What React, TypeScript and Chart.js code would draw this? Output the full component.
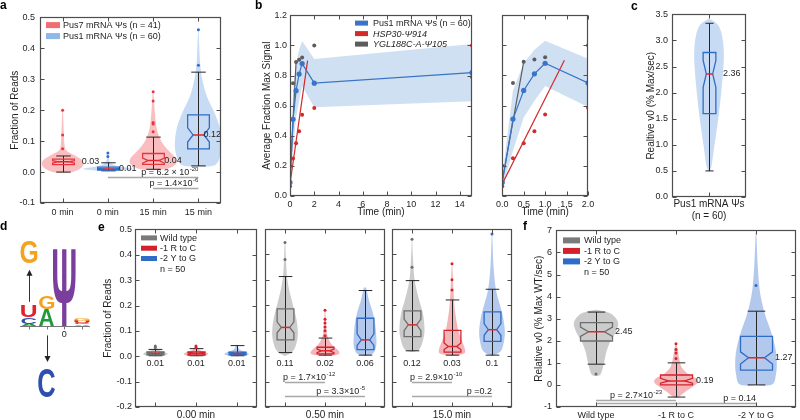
import React, { useEffect, useRef } from "react";
import { Chart, registerables } from "chart.js";

Chart.register(...registerables);

const FONT = "'Liberation Sans', Arial, Helvetica, sans-serif";
Chart.defaults.font.family = FONT;
Chart.defaults.font.size = 9;
Chart.defaults.color = "#1e1e1e";

/* ======================= DATA ======================= */
// ---- panel a ----
const aCategories = ["0 min", "0 min", "15 min", "15 min"];
const aSeriesNames = ["Pus7 mRNA Ψs (n = 41)", "Pus1 mRNA Ψs (n = 60)"];
const aSeriesOfCategory = [0, 1, 0, 1];
const aYTicks = [-0.1, 0, 0.1, 0.2, 0.3, 0.4, 0.5];
const aMedian = [0.033, 0.01, 0.037, 0.12];
const aQ1 = [0.024, 0.006, 0.025, 0.075];
const aQ3 = [0.042, 0.016, 0.06, 0.185];
const aLow = [0.0, 0.004, 0.009, 0.02];
const aHigh = [0.052, 0.03, 0.113, 0.323];
const aNotchLow = [0.029, 0.008, 0.029, 0.097];
const aNotchHigh = [0.037, 0.012, 0.045, 0.143];
const aOutliers = [[0.075, 0.12, 0.2], [0.05, 0.062], [0.13, 0.155, 0.16, 0.23, 0.26], [0.345, 0.46]];
const aDensity = [
  [[-0.004, 0], [0.0, 0.22], [0.012, 0.4], [0.028, 0.46], [0.042, 0.4], [0.056, 0.24], [0.07, 0.08], [0.09, 0.04], [0.13, 0.025], [0.2, 0.008]],
  [[0.003, 0], [0.005, 0.3], [0.009, 0.55], [0.014, 0.45], [0.02, 0.2], [0.03, 0.06], [0.045, 0.02], [0.062, 0.005]],
  [[0.006, 0], [0.01, 0.3], [0.025, 0.5], [0.045, 0.5], [0.07, 0.34], [0.1, 0.18], [0.14, 0.08], [0.19, 0.04], [0.26, 0.008]],
  [[0.017, 0], [0.022, 0.36], [0.05, 0.48], [0.09, 0.52], [0.14, 0.48], [0.19, 0.36], [0.24, 0.2], [0.29, 0.1], [0.35, 0.04], [0.46, 0.006]],
];
const aMedianLabels = ["0.03", "0.01", "0.04", "0.12"];
const aPFrom = [1, 2];
const aPTo = [3, 3];
const aPLevel = [-0.017, -0.052];
const aPText = [["p = 6.2 × 10", "-20"], ["p = 1.4×10", "-6"]];

// ---- panel b ----
const bTime = [0, 0.25, 0.5, 0.75, 1, 2, 15];
const bPus1Mean = [0.09, 0.51, 0.7, 0.81, 0.88, 0.75, 0.82];
const bPus1Low = [0.06, 0.3, 0.52, 0.63, 0.73, 0.59, 0.63];
const bPus1High = [0.13, 0.7, 0.88, 0.97, 1.03, 0.91, 1.01];
const bHsp30 = [0.065, 0.25, 0.35, 0.43, 0.54, 0.585, 1.0];
const bYgl = [0.2, 0.75, 0.89, 0.905, 0.92, 1.0, 0.79];
const bHspFitTime = [0, 1.45];
const bHspFitValue = [0.08, 0.9];
const bYglFitTime = [0, 0.5];
const bYglFitValue = [0.1, 0.89];
const bSeriesNames = ["Pus1 mRNA Ψs (n = 60)", "HSP30-Ψ914", "YGL188C-A-Ψ105"];
const bYTicks = [0, 0.2, 0.4, 0.6, 0.8, 1.0, 1.2];
const bLeftXTicks = [0, 2, 4, 6, 8, 10, 12, 14];
const bRightXTicks = [0, 0.5, 1, 1.5, 2];

// ---- panel c ----
const cCategory = [["Pus1 mRNA Ψs", "(n = 60)"]];
const cYTicks = [0, 0.5, 1, 1.5, 2, 2.5, 3, 3.5];
const cMedian = [2.36];
const cQ1 = [1.6];
const cQ3 = [2.77];
const cLow = [0.5];
const cHigh = [3.33];
const cNotchLow = [2.1];
const cNotchHigh = [2.62];
const cOutliers = [[]];
const cDensity = [[[0.48, 0], [0.6, 0.035], [1.0, 0.075], [1.5, 0.125], [2.0, 0.165], [2.5, 0.195], [2.8, 0.2], [3.1, 0.175], [3.3, 0.12], [3.42, 0]]];
const cMedianLabels = ["2.36"];

// ---- panel d (sequence logo) ----
const logoPositions = [-2, -1, 0, 1];
const logoLetters = [["A", "C", "U"], ["A", "G"], ["Ψ"], ["A", "C", "U", "G"]];
const logoHeights = [[0.03, 0.08, 0.15], [0.22, 0.17], [1.0], [0.02, 0.02, 0.025, 0.025]];
const logoVariantPos = [-2, -1];
const logoVariantLetter = ["G", "C"];
const logoVariantNear = [0.81, -0.54];
const logoVariantFar = [1.1, -0.91];
const logoArrowFrom = [0.31, -0.12];
const logoArrowTo = [0.72, -0.46];
const logoTickLabels = ["", "", "0", ""];

// ---- panel e ----
const eTimes = ["0.00 min", "0.50 min", "15.0 min"];
const eGroups = ["Wild type", "-1 R to C", "-2 Y to G"];
const eYTicks = [-0.2, -0.1, 0, 0.1, 0.2, 0.3, 0.4, 0.5];
const eMedian = [[0.012, 0.012, 0.011], [0.113, 0.021, 0.064], [0.123, 0.038, 0.104]];
const eQ1 = [[0.006, 0.005, 0.006], [0.064, 0.009, 0.026], [0.077, 0.016, 0.058]];
const eQ3 = [[0.017, 0.017, 0.016], [0.186, 0.035, 0.149], [0.178, 0.101, 0.174]];
const eLow = [[0.002, 0.002, 0.002], [0.014, 0.004, 0.004], [0.021, 0.004, 0.004]];
const eHigh = [[0.027, 0.03, 0.042], [0.313, 0.071, 0.258], [0.297, 0.221, 0.263]];
const eNotchLow = [[0.009, 0.009, 0.008], [0.092, 0.014, 0.042], [0.1, 0.026, 0.082]];
const eNotchHigh = [[0.015, 0.015, 0.014], [0.135, 0.028, 0.088], [0.146, 0.052, 0.128]];
const eOutliers = [
  [[0.035, 0.04], [0.035, 0.04], []],
  [[0.38, 0.447], [0.08, 0.1, 0.115, 0.13, 0.145, 0.18], []],
  [[0.35, 0.46], [0.26, 0.3, 0.363], [0.48]],
];
const eDensity = [
  [
    [[0.0, 0], [0.003, 0.22], [0.009, 0.3], [0.016, 0.24], [0.024, 0.1], [0.032, 0.03], [0.042, 0.005]],
    [[0.0, 0], [0.003, 0.22], [0.009, 0.3], [0.016, 0.24], [0.024, 0.1], [0.034, 0.03], [0.042, 0.005]],
    [[0.0, 0], [0.003, 0.22], [0.009, 0.3], [0.016, 0.24], [0.024, 0.1], [0.034, 0.04], [0.046, 0.005]],
  ],
  [
    [[0.0, 0], [0.02, 0.2], [0.06, 0.3], [0.1, 0.32], [0.15, 0.28], [0.2, 0.2], [0.25, 0.12], [0.3, 0.06], [0.36, 0.03], [0.45, 0.008]],
    [[0.0, 0], [0.005, 0.3], [0.015, 0.36], [0.03, 0.28], [0.05, 0.15], [0.08, 0.06], [0.12, 0.03], [0.18, 0.008]],
    [[0.0, 0], [0.01, 0.2], [0.04, 0.28], [0.08, 0.28], [0.13, 0.25], [0.18, 0.18], [0.22, 0.1], [0.27, 0.03]],
  ],
  [
    [[0.015, 0], [0.03, 0.2], [0.08, 0.3], [0.12, 0.31], [0.17, 0.27], [0.22, 0.18], [0.27, 0.1], [0.32, 0.05], [0.4, 0.02], [0.46, 0.006]],
    [[0.0, 0], [0.01, 0.3], [0.03, 0.32], [0.06, 0.25], [0.1, 0.16], [0.15, 0.1], [0.2, 0.06], [0.28, 0.03], [0.36, 0.008]],
    [[0.0, 0], [0.02, 0.22], [0.06, 0.3], [0.1, 0.32], [0.15, 0.28], [0.2, 0.2], [0.26, 0.1], [0.35, 0.04], [0.48, 0.006]],
  ],
];
const eMedianLabels = [["0.01", "0.01", "0.01"], ["0.11", "0.02", "0.06"], ["0.12", "0.03", "0.1"]];
const ePFrom = [[], [0, 0], [0, 0]];
const ePTo = [[], [1, 2], [1, 2]];
const ePLevel = [[], [-0.1, -0.156], [-0.1, -0.156]];
const ePText = [[], [["p = 1.7×10", "-12"], ["p = 3.3×10", "-5"]], [["p = 2.9×10", "-10"], ["p =0.2", ""]]];
const eSampleNote = "n = 50";

// ---- panel f ----
const fYTicks = [-1, 0, 1, 2, 3, 4, 5, 6, 7];
const fMedian = [2.41, 0.18, 1.23];
const fQ1 = [1.99, 0.0, 0.67];
const fQ3 = [2.82, 0.45, 2.2];
const fLow = [0.94, -0.55, 0.0];
const fHigh = [3.3, 1.0, 3.34];
const fNotchLow = [2.2, 0.08, 0.95];
const fNotchHigh = [2.62, 0.3, 1.5];
const fOutliers = [[0.49], [1.2, 1.45, 1.6, 1.87], [4.5]];
const fDensity = [
  [[0.4, 0], [0.5, 0.06], [1.0, 0.1], [1.5, 0.13], [1.9, 0.17], [2.2, 0.22], [2.6, 0.27], [2.9, 0.27], [3.2, 0.2], [3.32, 0.12], [3.4, 0]],
  [[-0.6, 0], [-0.5, 0.05], [-0.3, 0.12], [-0.1, 0.2], [0.1, 0.27], [0.3, 0.25], [0.5, 0.15], [0.8, 0.07], [1.2, 0.04], [1.6, 0.02], [1.9, 0.006]],
  [[0.0, 0], [0.02, 0.2], [0.5, 0.25], [1.0, 0.26], [1.5, 0.25], [2.0, 0.22], [2.5, 0.18], [3.0, 0.13], [3.5, 0.09], [4.0, 0.06], [4.5, 0.04], [5.5, 0.02], [6.9, 0.004]],
];
const fMedianLabels = ["2.45", "0.19", "1.27"];
const fPFrom = [0, 0];
const fPTo = [1, 2];
const fPLevel = [-0.67, -0.82];
const fPText = [["p = 2.7×10", "-23"], ["p = 0.14", ""]];

/* ======================= LAYOUT & STYLE ======================= */
type Pad = { l: number; t: number; r: number; b: number };
type Rect = { l: number; t: number; w: number; h: number };
type Pal = { fill: string; edge: string; dot: string };

const A_PLOT: Rect = { l: 40, t: 15, w: 181, h: 188 };
const A_PAD: Pad = { l: 40, t: 8, r: 8, b: 17 };
const B1_PLOT: Rect = { l: 290, t: 15, w: 182, h: 181 };
const B1_PAD: Pad = { l: 32, t: 8, r: 10, b: 22 };
const B2_PLOT: Rect = { l: 499, t: 15, w: 89, h: 181 };
const B2_PAD: Pad = { l: 6, t: 8, r: 10, b: 22 };
const C_PLOT: Rect = { l: 672, t: 13, w: 74, h: 184 };
const C_PAD: Pad = { l: 30, t: 8, r: 8, b: 26 };
const D_PLOT: Rect = { l: 20, t: 232, w: 70, h: 176 };
const D_PAD: Pad = { l: 0, t: 0, r: 0, b: 0 };
const E_PLOTS: Rect[] = [
  { l: 135, t: 229, w: 123, h: 178 },
  { l: 264, t: 229, w: 122, h: 178 },
  { l: 391, t: 229, w: 122, h: 178 },
];
const E_PADS: Pad[] = [
  { l: 35, t: 8, r: 3, b: 14 },
  { l: 3, t: 8, r: 3, b: 14 },
  { l: 3, t: 8, r: 3, b: 14 },
];
const F_PLOT: Rect = { l: 556, t: 229, w: 243, h: 178 };
const F_PAD: Pad = { l: 26, t: 8, r: 1, b: 14 };

const PAL_A: Pal[] = [
  { fill: "rgba(242,98,104,0.42)", edge: "#e5373d", dot: "#e5373d" },
  { fill: "rgba(118,166,228,0.40)", edge: "#2e6dc8", dot: "#2e6dc8" },
];
const PAL_E: Pal[] = [
  { fill: "rgba(140,140,140,0.45)", edge: "#6e6e6e", dot: "#6e6e6e" },
  { fill: "rgba(228,70,80,0.40)", edge: "#d4222b", dot: "#d4222b" },
  { fill: "rgba(84,134,212,0.45)", edge: "#2e6cc6", dot: "#2e6cc6" },
];
const LEG_A = ["#f26d72", "#8fb7e8"];
const LEG_E = ["#7a7a7a", "#d3202a", "#2e6cc7"];
const B_BLUE = "#3a74c6";
const B_RED = "#d42a2a";
const B_GRAY = "#5c5c5c";
const B_BAND = "rgba(150,186,228,0.45)";
const MEDIAN_COLOR = "#e3262b";
const WHISKER = "#262626";
const FRAME = "#4d4d4d";
const PLINE = "#a8a8a8";
const LETTER_COLOR: Record<string, string> = { A: "#1f9a3c", C: "#2f4fae", G: "#f5a31f", U: "#e0202a", "Ψ": "#7a3e9d" };

/* ======================= HELPERS ======================= */
function baseOptions(pad: Pad, scales: any) {
  return {
    responsive: false,
    maintainAspectRatio: false,
    animation: false,
    devicePixelRatio: 1,
    events: [],
    layout: { padding: { left: 0, top: pad.t, right: pad.r, bottom: 0 } },
    plugins: { legend: { display: false }, tooltip: { enabled: false } },
    scales,
  };
}

function axisX(o: { min: number; max: number; ticks: number[]; fmt: (v: number) => any; show: boolean; pad: Pad; title?: string; tickPad?: number; font?: number; titlePadB?: number }) {
  return {
    type: "linear",
    min: o.min,
    max: o.max,
    afterBuildTicks: (sc: any) => { sc.ticks = o.ticks.map((v) => ({ value: v })); },
    afterFit: (sc: any) => { sc.height = o.pad.b; },
    grid: { display: false, drawTicks: false },
    border: { display: false },
    ticks: { display: o.show, padding: o.tickPad ?? 3, autoSkip: false, maxRotation: 0, minRotation: 0, font: { size: o.font ?? 9 }, callback: (v: number) => o.fmt(v) },
    title: { display: !!o.title, text: o.title ?? "", padding: { top: 0, bottom: o.titlePadB ?? 0 }, font: { size: 10 } },
  };
}

function axisY(o: { min: number; max: number; ticks: number[]; fmt: (v: number) => any; show: boolean; pad: Pad; title?: string; titlePadT?: number; tickPad?: number }) {
  return {
    type: "linear",
    min: o.min,
    max: o.max,
    afterBuildTicks: (sc: any) => { sc.ticks = o.ticks.map((v) => ({ value: v })); },
    afterFit: (sc: any) => { sc.width = o.pad.l; },
    grid: { display: false, drawTicks: false },
    border: { display: false },
    ticks: { display: o.show, padding: o.tickPad ?? 4, autoSkip: false, font: { size: 9 }, callback: (v: number) => o.fmt(v) },
    title: { display: !!o.title, text: o.title ?? "", padding: { top: o.titlePadT ?? 2, bottom: 0 }, font: { size: 10 } },
  };
}

function framePlugin(xt: number[], yt: number[]) {
  return {
    id: "frame",
    afterDatasetsDraw(chart: any) {
      const { ctx, chartArea: a } = chart;
      const xs = chart.scales.x, ys = chart.scales.y;
      const L = Math.round(a.left) + 0.5, R = Math.round(a.right) - 0.5, T = Math.round(a.top) + 0.5, B = Math.round(a.bottom) - 0.5;
      ctx.save();
      ctx.strokeStyle = FRAME;
      ctx.lineWidth = 1.2;
      ctx.strokeRect(L, T, R - L, B - T);
      ctx.beginPath();
      ctx.lineWidth = 1;
      const len = 4;
      for (const v of yt) {
        const py = Math.round(ys.getPixelForValue(v)) + 0.5;
        ctx.moveTo(L, py); ctx.lineTo(L + len, py);
        ctx.moveTo(R, py); ctx.lineTo(R - len, py);
      }
      for (const v of xt) {
        const px = Math.round(xs.getPixelForValue(v)) + 0.5;
        ctx.moveTo(px, B); ctx.lineTo(px, B - len);
        ctx.moveTo(px, T); ctx.lineTo(px, T + len);
      }
      ctx.stroke();
      ctx.restore();
    },
  };
}

function spline(ctx: CanvasRenderingContext2D, pts: number[][], move: boolean) {
  if (move) ctx.moveTo(pts[0][0], pts[0][1]);
  else ctx.lineTo(pts[0][0], pts[0][1]);
  for (let i = 0; i < pts.length - 1; i++) {
    const p0 = pts[Math.max(0, i - 1)], p1 = pts[i], p2 = pts[i + 1], p3 = pts[Math.min(pts.length - 1, i + 2)];
    ctx.bezierCurveTo(
      p1[0] + (p2[0] - p0[0]) / 6, p1[1] + (p2[1] - p0[1]) / 6,
      p2[0] - (p3[0] - p1[0]) / 6, p2[1] - (p3[1] - p1[1]) / 6,
      p2[0], p2[1]
    );
  }
}

function drawPText(ctx: CanvasRenderingContext2D, base: string, sup: string, x: number, y: number, align: string) {
  ctx.textAlign = "left";
  ctx.textBaseline = "alphabetic";
  ctx.font = `9px ${FONT}`;
  const wb = ctx.measureText(base).width;
  ctx.font = `6px ${FONT}`;
  const ws = sup ? ctx.measureText(sup).width + 0.5 : 0;
  const total = wb + ws;
  const x0 = align === "left" ? x : align === "right" ? x - total : x - total / 2;
  ctx.fillStyle = "#1e1e1e";
  ctx.font = `9px ${FONT}`;
  ctx.fillText(base, x0, y);
  if (sup) {
    ctx.font = `6px ${FONT}`;
    ctx.fillText(sup, x0 + wb + 0.5, y - 4);
  }
}

type LSpec = { x: number; y: number; dy: number; sw: number; sh: number; tx: number; colors: string[]; texts: string[]; italic?: boolean[]; extra?: string };

function drawLegend(ctx: CanvasRenderingContext2D, a: any, L: LSpec) {
  ctx.save();
  ctx.textAlign = "left";
  ctx.textBaseline = "middle";
  L.texts.forEach((t, i) => {
    const y = a.top + L.y + i * L.dy;
    ctx.fillStyle = L.colors[i];
    ctx.fillRect(a.left + L.x, y - L.sh / 2, L.sw, L.sh);
    ctx.fillStyle = "#1e1e1e";
    ctx.font = `${L.italic && L.italic[i] ? "italic " : ""}9px ${FONT}`;
    ctx.fillText(t, a.left + L.tx, y + 0.5);
  });
  if (L.extra) {
    ctx.font = `9px ${FONT}`;
    ctx.fillText(L.extra, a.left + L.tx, a.top + L.y + L.texts.length * L.dy + 0.5);
  }
  ctx.restore();
}

type VSpec = {
  n: number;
  med: number[]; q1: number[]; q3: number[]; lo: number[]; hi: number[]; nlo: number[]; nhi: number[];
  out: number[][]; dens: number[][][]; pal: Pal[]; vlabels: string[];
  boxHW: number; capHW: number;
  labelMode: "right" | "below"; labelDx?: number[]; labelY?: number;
  p?: { from: number[]; to: number[]; level: number[]; text: string[][]; align: string[] };
  legend?: LSpec;
};

function violinPlugin(v: VSpec) {
  return {
    id: "violin",
    beforeDatasetsDraw(chart: any) {
      const { ctx, chartArea: a } = chart;
      const xs = chart.scales.x, ys = chart.scales.y;
      const cw = xs.getPixelForValue(1) - xs.getPixelForValue(0);
      const Y = (val: number) => ys.getPixelForValue(val);
      ctx.save();
      ctx.beginPath();
      ctx.rect(a.left, a.top, a.right - a.left, a.bottom - a.top);
      ctx.clip();
      for (let i = 0; i < v.n; i++) {
        const cx = xs.getPixelForValue(i);
        const right = v.dens[i].map(([val, w]) => [cx + w * cw, Y(val)]);
        const left = v.dens[i].slice().reverse().map(([val, w]) => [cx - w * cw, Y(val)]);
        ctx.beginPath();
        spline(ctx, right, true);
        spline(ctx, left, false);
        ctx.closePath();
        ctx.fillStyle = v.pal[i].fill;
        ctx.fill();
      }
      for (let i = 0; i < v.n; i++) {
        const cx = Math.round(xs.getPixelForValue(i)) + 0.5;
        const bw = v.boxHW * cw, cap = v.capHW * cw, nw = bw * 0.5;
        ctx.strokeStyle = WHISKER;
        ctx.lineWidth = 1;
        ctx.beginPath();
        ctx.moveTo(cx, Y(v.lo[i])); ctx.lineTo(cx, Y(v.hi[i]));
        ctx.moveTo(cx - cap, Y(v.lo[i])); ctx.lineTo(cx + cap, Y(v.lo[i]));
        ctx.moveTo(cx - cap, Y(v.hi[i])); ctx.lineTo(cx + cap, Y(v.hi[i]));
        ctx.stroke();
        ctx.beginPath();
        ctx.moveTo(cx - bw, Y(v.q1[i]));
        ctx.lineTo(cx - bw, Y(v.nlo[i]));
        ctx.lineTo(cx - nw, Y(v.med[i]));
        ctx.lineTo(cx - bw, Y(v.nhi[i]));
        ctx.lineTo(cx - bw, Y(v.q3[i]));
        ctx.lineTo(cx + bw, Y(v.q3[i]));
        ctx.lineTo(cx + bw, Y(v.nhi[i]));
        ctx.lineTo(cx + nw, Y(v.med[i]));
        ctx.lineTo(cx + bw, Y(v.nlo[i]));
        ctx.lineTo(cx + bw, Y(v.q1[i]));
        ctx.closePath();
        ctx.strokeStyle = v.pal[i].edge;
        ctx.lineWidth = 1.3;
        ctx.stroke();
        ctx.beginPath();
        ctx.moveTo(cx - nw, Y(v.med[i])); ctx.lineTo(cx + nw, Y(v.med[i]));
        ctx.strokeStyle = MEDIAN_COLOR;
        ctx.lineWidth = 1.5;
        ctx.stroke();
      }
      ctx.restore();
    },
    afterDatasetsDraw(chart: any) {
      const { ctx, chartArea: a } = chart;
      const xs = chart.scales.x, ys = chart.scales.y;
      const Y = (val: number) => ys.getPixelForValue(val);
      ctx.save();
      ctx.fillStyle = "#1e1e1e";
      ctx.font = `9px ${FONT}`;
      for (let i = 0; i < v.n; i++) {
        const cx = xs.getPixelForValue(i);
        if (v.labelMode === "right") {
          ctx.textAlign = "left";
          ctx.textBaseline = "middle";
          ctx.fillText(v.vlabels[i], cx + (v.labelDx ? v.labelDx[i] : 10), Y(v.med[i]));
        } else {
          ctx.textAlign = "center";
          ctx.textBaseline = "middle";
          ctx.fillText(v.vlabels[i], cx, Y(v.labelY ?? 0));
        }
      }
      if (v.p) {
        v.p.from.forEach((f, k) => {
          const x1 = xs.getPixelForValue(f), x2 = xs.getPixelForValue(v.p!.to[k]);
          const y = Math.round(Y(v.p!.level[k])) + 0.5;
          ctx.strokeStyle = PLINE;
          ctx.lineWidth = 1.5;
          ctx.beginPath(); ctx.moveTo(x1, y); ctx.lineTo(x2, y); ctx.stroke();
          const al = v.p!.align[k];
          const tx = al === "left" ? x1 - 2 : al === "right" ? x2 : (x1 + x2) / 2;
          drawPText(ctx, v.p!.text[k][0], v.p!.text[k][1], tx, y - 2.5, al);
        });
      }
      if (v.legend) drawLegend(ctx, a, v.legend);
      ctx.restore();
    },
  };
}

function makeViolin(v: VSpec, ax: { pad: Pad; xLabels: any[] | null; xTitle?: string; xTickPad?: number; xFont?: number; yMin: number; yMax: number; yTicks: number[]; yFmt: (x: number) => string; showY: boolean; yTitle?: string; yTitlePad?: number; yTickPad?: number }) {
  const idx = Array.from({ length: v.n }, (_, i) => i);
  const datasets = v.out.map((vals, i) => ({
    data: vals.map((y) => ({ x: i, y })),
    showLine: false,
    pointRadius: 1.5,
    pointBorderWidth: 0,
    pointBackgroundColor: v.pal[i].dot,
    borderColor: v.pal[i].dot,
  }));
  return {
    type: "scatter",
    data: { datasets },
    options: baseOptions(ax.pad, {
      x: axisX({ min: -0.5, max: v.n - 0.5, ticks: idx, fmt: (i) => (ax.xLabels ? ax.xLabels[Math.round(i)] : ""), show: !!ax.xLabels, pad: ax.pad, title: ax.xTitle, tickPad: ax.xTickPad, font: ax.xFont }),
      y: axisY({ min: ax.yMin, max: ax.yMax, ticks: ax.yTicks, fmt: ax.yFmt, show: ax.showY, pad: ax.pad, title: ax.yTitle, titlePadT: ax.yTitlePad, tickPad: ax.yTickPad }),
    }),
    plugins: [violinPlugin(v), framePlugin(idx, ax.yTicks)],
  };
}

/* ======================= PANEL BUILDERS ======================= */
function buildA() {
  return makeViolin(
    {
      n: aCategories.length,
      med: aMedian, q1: aQ1, q3: aQ3, lo: aLow, hi: aHigh, nlo: aNotchLow, nhi: aNotchHigh,
      out: aOutliers, dens: aDensity, pal: aSeriesOfCategory.map((s) => PAL_A[s]), vlabels: aMedianLabels,
      boxHW: 0.24, capHW: 0.16,
      labelMode: "right", labelDx: [19, 11, 11, 5],
      p: { from: aPFrom, to: aPTo, level: aPLevel, text: aPText, align: ["right", "right"] },
      legend: { x: 6, y: 7.7, dy: 11, sw: 14, sh: 6, tx: 23, colors: LEG_A, texts: aSeriesNames },
    },
    { pad: A_PAD, xLabels: aCategories, xTickPad: 4, yMin: -0.1, yMax: 0.5, yTicks: aYTicks, yFmt: (x) => x.toFixed(1), showY: true, yTitle: "Fraction of Reads", yTitlePad: 9, yTickPad: 5 }
  );
}

function buildB(left: boolean) {
  const pad = left ? B1_PAD : B2_PAD;
  const xt = left ? bLeftXTicks : bRightXTicks;
  const pts = (ys: number[]) => bTime.map((t, i) => ({ x: t, y: ys[i] }));
  const fit = (ts: number[], vs: number[]) => ts.map((t, i) => ({ x: t, y: vs[i] }));
  const clear = "rgba(0,0,0,0)";
  const datasets: any[] = [
    { data: pts(bPus1High), showLine: true, borderColor: clear, borderWidth: 1, pointRadius: 0, fill: "+1", backgroundColor: B_BAND, order: 10 },
    { data: pts(bPus1Low), showLine: true, borderColor: clear, borderWidth: 1, pointRadius: 0, fill: false, order: 10 },
    { data: pts(bPus1Mean), showLine: true, borderColor: B_BLUE, borderWidth: 1.2, pointRadius: 2.6, pointBackgroundColor: B_BLUE, pointBorderWidth: 0, order: 2 },
    { data: fit(bHspFitTime, bHspFitValue), showLine: true, borderColor: B_RED, borderWidth: 1.2, pointRadius: 0, order: 3 },
    { data: fit(bYglFitTime, bYglFitValue), showLine: true, borderColor: B_GRAY, borderWidth: 1.2, pointRadius: 0, order: 3 },
    { data: pts(bHsp30), showLine: false, pointRadius: 2, pointBackgroundColor: B_RED, pointBorderWidth: 0, borderColor: B_RED, order: 1 },
    { data: pts(bYgl), showLine: false, pointRadius: 2, pointBackgroundColor: B_GRAY, pointBorderWidth: 0, borderColor: B_GRAY, order: 1 },
  ];
  const legendPlugin = {
    id: "blegend",
    afterDatasetsDraw(chart: any) {
      if (!left) return;
      drawLegend(chart.ctx, chart.chartArea, { x: 65, y: 7.7, dy: 10.5, sw: 13, sh: 5, tx: 83, colors: [B_BLUE, B_RED, B_GRAY], texts: bSeriesNames, italic: [false, true, true] });
    },
  };
  return {
    type: "scatter",
    data: { datasets },
    options: baseOptions(pad, {
      x: axisX({ min: 0, max: left ? 15 : 2, ticks: xt, fmt: (v) => (left ? String(v) : v.toFixed(1)), show: true, pad, title: "Time (min)", tickPad: 3 }),
      y: axisY({ min: 0, max: 1.2, ticks: bYTicks, fmt: (v) => v.toFixed(1), show: left, pad, title: left ? "Average Fraction Max Signal" : undefined, titlePadT: 3, tickPad: 3 }),
    }),
    plugins: [framePlugin(xt, bYTicks), legendPlugin],
  };
}

function buildC() {
  return makeViolin(
    {
      n: 1,
      med: cMedian, q1: cQ1, q3: cQ3, lo: cLow, hi: cHigh, nlo: cNotchLow, nhi: cNotchHigh,
      out: cOutliers, dens: cDensity, pal: [PAL_A[1]], vlabels: cMedianLabels,
      boxHW: 0.086, capHW: 0.055,
      labelMode: "right", labelDx: [14],
    },
    { pad: C_PAD, xLabels: cCategory, xTickPad: 1, xFont: 10, yMin: 0, yMax: 3.5, yTicks: cYTicks, yFmt: (x) => x.toFixed(1), showY: true, yTitle: "Realtive v0 (% Max/sec)", yTitlePad: 3, yTickPad: 4 }
  );
}

function buildD() {
  const logo = {
    id: "logo",
    afterDatasetsDraw(chart: any) {
      const { ctx } = chart;
      const xs = chart.scales.x, ys = chart.scales.y;
      const unit = xs.getPixelForValue(1) - xs.getPixelForValue(0);
      const drawLetter = (ch: string, cx: number, v0: number, v1: number, wUnits: number) => {
        const yTop = ys.getPixelForValue(Math.max(v0, v1));
        const yBot = ys.getPixelForValue(Math.min(v0, v1));
        const h = yBot - yTop;
        const w = wUnits * unit;
        if (h <= 0.2) return;
        ctx.save();
        ctx.font = `bold 100px ${FONT}`;
        ctx.textAlign = "left";
        ctx.textBaseline = "alphabetic";
        const m = ctx.measureText(ch);
        const gw = m.actualBoundingBoxLeft + m.actualBoundingBoxRight;
        const gh = m.actualBoundingBoxAscent + m.actualBoundingBoxDescent;
        ctx.translate(cx - w / 2, yTop);
        ctx.scale(w / gw, h / gh);
        ctx.fillStyle = LETTER_COLOR[ch] || "#333";
        ctx.fillText(ch, m.actualBoundingBoxLeft, m.actualBoundingBoxAscent);
        ctx.restore();
      };
      logoPositions.forEach((pos, i) => {
        let base = 0;
        const cx = xs.getPixelForValue(pos);
        logoLetters[i].forEach((ch, k) => {
          const h = logoHeights[i][k];
          drawLetter(ch, cx, base, base + h, ch === "Ψ" ? 1.3 : 0.85);
          base += h;
        });
      });
      logoVariantPos.forEach((pos, i) => {
        drawLetter(logoVariantLetter[i], xs.getPixelForValue(pos), logoVariantNear[i], logoVariantFar[i], 0.95);
      });
      const y0 = Math.round(ys.getPixelForValue(0)) + 0.5;
      ctx.save();
      ctx.strokeStyle = "#777";
      ctx.lineWidth = 1;
      ctx.beginPath();
      ctx.moveTo(xs.left, y0); ctx.lineTo(xs.right, y0);
      logoPositions.forEach((pos) => {
        const px = Math.round(xs.getPixelForValue(pos)) + 0.5;
        ctx.moveTo(px, y0); ctx.lineTo(px, y0 + 3);
      });
      ctx.stroke();
      ctx.fillStyle = "#1e1e1e";
      ctx.font = `9px ${FONT}`;
      ctx.textAlign = "center";
      ctx.textBaseline = "top";
      logoPositions.forEach((pos, i) => {
        if (logoTickLabels[i]) ctx.fillText(logoTickLabels[i], xs.getPixelForValue(pos), y0 + 4);
      });
      logoVariantPos.forEach((pos, i) => {
        const cx = xs.getPixelForValue(pos);
        const ya = ys.getPixelForValue(logoArrowFrom[i]);
        const yb = ys.getPixelForValue(logoArrowTo[i]);
        const dir = yb < ya ? -1 : 1;
        const px = Math.round(cx) + 0.5;
        ctx.strokeStyle = "#333";
        ctx.fillStyle = "#222";
        ctx.lineWidth = 1;
        ctx.beginPath(); ctx.moveTo(px, ya); ctx.lineTo(px, yb - dir * 5); ctx.stroke();
        ctx.beginPath();
        ctx.moveTo(px, yb); ctx.lineTo(px - 3, yb - dir * 6); ctx.lineTo(px + 3, yb - dir * 6); ctx.closePath();
        ctx.fill();
      });
      ctx.restore();
    },
  };
  return {
    type: "scatter",
    data: { datasets: [] },
    options: baseOptions(D_PAD, {
      x: { type: "linear", display: false, min: -2.5, max: 1.45 },
      y: { type: "linear", display: false, min: -1.05, max: 1.205 },
    }),
    plugins: [logo],
  };
}

function buildE(k: number) {
  const pad = E_PADS[k];
  return makeViolin(
    {
      n: 3,
      med: eMedian[k], q1: eQ1[k], q3: eQ3[k], lo: eLow[k], hi: eHigh[k], nlo: eNotchLow[k], nhi: eNotchHigh[k],
      out: eOutliers[k], dens: eDensity[k], pal: PAL_E, vlabels: eMedianLabels[k],
      boxHW: 0.21, capHW: 0.17,
      labelMode: "below", labelY: -0.029,
      p: ePFrom[k].length ? { from: ePFrom[k], to: ePTo[k], level: ePLevel[k], text: ePText[k], align: ["left", "right"] } : undefined,
      legend: k === 0 ? { x: 6, y: 8.5, dy: 10.3, sw: 16, sh: 5, tx: 25, colors: LEG_E, texts: eGroups, extra: eSampleNote } : undefined,
    },
    { pad, xLabels: null, xTitle: eTimes[k], yMin: -0.2, yMax: 0.5, yTicks: eYTicks, yFmt: (x) => x.toFixed(1), showY: k === 0, yTitle: k === 0 ? "Fraction of Reads" : undefined, yTitlePad: 2, yTickPad: 3 }
  );
}

function buildF() {
  return makeViolin(
    {
      n: 3,
      med: fMedian, q1: fQ1, q3: fQ3, lo: fLow, hi: fHigh, nlo: fNotchLow, nhi: fNotchHigh,
      out: fOutliers, dens: fDensity, pal: PAL_E, vlabels: fMedianLabels,
      boxHW: 0.2, capHW: 0.11,
      labelMode: "right", labelDx: [19, 20, 19],
      p: { from: fPFrom, to: fPTo, level: fPLevel, text: fPText, align: ["center", "right"] },
      legend: { x: 7, y: 10, dy: 10.5, sw: 17, sh: 6, tx: 28, colors: LEG_E, texts: eGroups, extra: eSampleNote },
    },
    { pad: F_PAD, xLabels: eGroups, xTickPad: 3, yMin: -1, yMax: 7, yTicks: fYTicks, yFmt: (x) => String(Math.round(x)), showY: true, yTitle: "Relative v0 (% Max WT/sec)", yTitlePad: 3, yTickPad: 4 }
  );
}

/* ======================= REACT ======================= */
function ChartBox({ plot, pad, make }: { plot: Rect; pad: Pad; make: () => any }) {
  const ref = useRef<HTMLCanvasElement | null>(null);
  const W = plot.w + pad.l + pad.r;
  const H = plot.h + pad.t + pad.b;
  useEffect(() => {
    if (!ref.current) return;
    const chart = new Chart(ref.current, make());
    return () => chart.destroy();
  }, []);
  return (
    <canvas
      ref={ref}
      width={W}
      height={H}
      style={{ position: "absolute", left: plot.l - pad.l, top: plot.t - pad.t, width: W, height: H, display: "block" }}
    />
  );
}

const panelLetters = [
  { t: "a", x: 0, y: -1 },
  { t: "b", x: 255, y: -1 },
  { t: "c", x: 631, y: 0 },
  { t: "d", x: 0, y: 220 },
  { t: "e", x: 98, y: 221 },
  { t: "f", x: 523, y: 220 },
];

export default function App() {
  return (
    <div style={{ position: "absolute", left: 0, top: 0, width: 800, height: 420, background: "#fff", overflow: "hidden", fontFamily: FONT }}>
      <ChartBox plot={A_PLOT} pad={A_PAD} make={buildA} />
      <ChartBox plot={B1_PLOT} pad={B1_PAD} make={() => buildB(true)} />
      <ChartBox plot={B2_PLOT} pad={B2_PAD} make={() => buildB(false)} />
      <ChartBox plot={C_PLOT} pad={C_PAD} make={buildC} />
      <ChartBox plot={D_PLOT} pad={D_PAD} make={buildD} />
      {E_PLOTS.map((p, k) => (
        <ChartBox key={k} plot={p} pad={E_PADS[k]} make={() => buildE(k)} />
      ))}
      <ChartBox plot={F_PLOT} pad={F_PAD} make={buildF} />
      {panelLetters.map((l) => (
        <div key={l.t} style={{ position: "absolute", left: l.x, top: l.y, fontSize: 12, lineHeight: "12px", fontWeight: "bold", color: "#000" }}>
          {l.t}
        </div>
      ))}
    </div>
  );
}
